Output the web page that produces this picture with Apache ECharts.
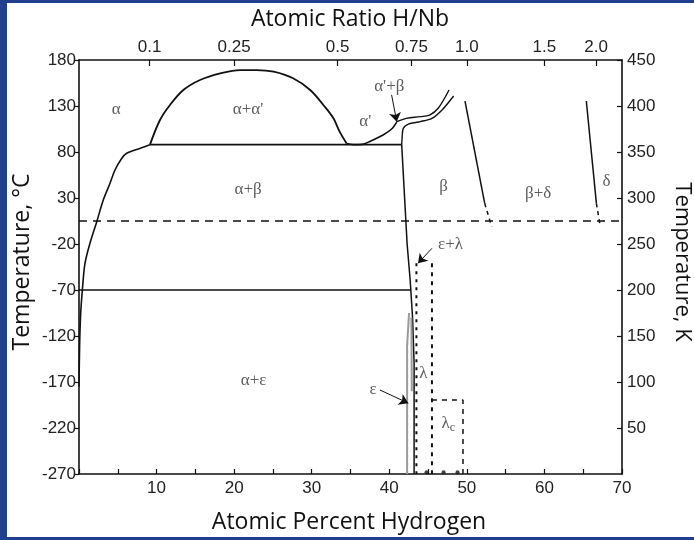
<!DOCTYPE html>
<html>
<head>
<meta charset="utf-8">
<script src="https://cdn.jsdelivr.net/npm/echarts@6/dist/echarts.min.js"></script>
<style>
html,body{margin:0;padding:0;background:#fff;}
#chart{width:694px;height:540px;}
</style>
</head>
<body>
<div id="chart"></div>
<script>
// Nb–H phase diagram: temperature vs. hydrogen content

// Axis tick labels
const ratioLabels = ['0.1', '0.25', '0.5', '0.75', '1.0', '1.5', '2.0'];
const ratioValues = [0.1, 0.25, 0.5, 0.75, 1.0, 1.5, 2.0];

// Phase boundaries: [atomic % H, temperature °C]
const alphaSolvus = [[9.15,88],[7.9,84],[6.15,78.6],[5.5,73],[4.64,60.4],[4.0,46],[3.13,27.8],[2.28,4],[1.42,-19],[0.77,-41],[0.47,-66],[0.22,-95],[0.08,-130],[0.0,-175]];
const miscibilityDome = [[9.15,88],[10.44,114.8],[11.73,131.1],[13.45,147.4],[15.6,158.3],[18.2,165.5],[20.8,169.1],[22.9,169.1],[25.1,167.3],[27.6,160.1],[29.8,147.4],[31.5,131.1],[32.8,116.6],[33.6,102.1],[34.5,89.2]];
const alphaPrimeBoundary = [[34.5,89.2],[35.3,88],[36.5,88.3],[37.5,91.5],[39.2,98.5],[40.3,105],[40.96,112.5]];
const upperTwoPhase = [[40.96,113],[42.2,116.6],[44,118.4],[45.2,120.2],[46.3,127.5],[47.7,147.4]];
const betaTop = [[48.3,140.9],[46.8,125.7],[45.5,116.6],[44,113],[42.45,110.4],[41.8,105.7],[41.65,95],[41.6,88]];
const betaSide = [[41.6,88],[42.3,-20],[42.7,-60],[43.0,-100],[43.2,-150],[43.2,-270]];
const eutectoidLine = [[9.15,88],[41.6,88]];
const lowTempLine = [[0,-70],[42.8,-70]];
const referenceLine = [[0,5],[70,5]];
const betaDeltaSolid = [[49.76,135.4],[52.3,24.2]];
const betaDeltaDashed = [[52.3,24.2],[53.2,-1]];
const deltaSolid = [[65.4,135.4],[66.7,24.2]];
const deltaDashed = [[66.7,24.2],[67.2,-1]];
const epsilonOuter = [[42.55,-95],[42.3,-130],[42.3,-270]];
const epsilonInner = [[42.85,-100],[42.9,-180]];
const lambdaLeft = [[43.5,-41],[43.5,-270]];
const lambdaRight = [[45.5,-41],[45.5,-270]];
const lambdaC = [[45.5,-189.6],[49.5,-189.6],[49.5,-270]];
const bottomDots = [[44.8,-268],[47,-268],[48.8,-268]];

// Pointer arrows: [from, to]
const arrowSegments = [
  [[40.3,142],[40.96,113]],
  [[45.5,-24.7],[43.7,-41]],
  [[38.8,-178.7],[42.45,-193]]
];

// Phase field labels
const regionNames = ['α', 'α+α\'', 'α\'+β', 'α\'', 'α+β', 'β', 'β+δ', 'δ', 'ε+λ', 'α+ε', 'λ', 'λ{sub|c}', 'ε'];
const regionX = [4.8, 21.8, 40.0, 36.9, 21.8, 47.0, 59.2, 68.0, 47.9, 22.5, 44.4, 47.6, 37.9];
const regionT = [126, 126, 151, 112.6, 39, 42, 35, 47.7, -21, -168, -160.5, -215, -178];

const chart = echarts.init(document.getElementById('chart'), null, {renderer: 'canvas'});

const ratioPct = ratioValues.map(r => r / (1 + r) * 100);
const ratioLookup = {};
ratioPct.forEach((p, i) => { ratioLookup[p.toFixed(4)] = ratioLabels[i]; });

const tickFont = {fontFamily: 'Liberation Sans', fontSize: 17, color: '#222'};
const titleFont = '"Open Sans", "Noto Sans", sans-serif';
const black = '#111';

function lineSeries(data, opts) {
  opts = opts || {};
  return {
    type: 'line',
    data: data,
    showSymbol: false,
    symbol: 'none',
    smooth: opts.smooth || false,
    silent: true,
    z: opts.z || 3,
    lineStyle: {
      color: opts.color || black,
      width: opts.width || 1.6,
      type: opts.dash || 'solid'
    }
  };
}

const labelData = regionNames.map((n, i) => ({name: n, value: [regionX[i], regionT[i]]}));

const option = {
  backgroundColor: '#ffffff',
  animation: false,
  grid: {left: 79, right: 72, top: 60, bottom: 66},
  xAxis: [
    {
      type: 'value', position: 'bottom', min: 0, max: 70, interval: 5,
      axisLine: {onZero: false, lineStyle: {color: black, width: 1.6}},
      axisTick: {inside: true, length: 5, lineStyle: {color: black, width: 1.2}},
      axisLabel: Object.assign({}, tickFont, {
        margin: 6,
        formatter: v => (v > 0 && v % 10 === 0) ? String(v) : ''
      }),
      splitLine: {show: false}
    },
    {
      type: 'value', position: 'top', min: 0, max: 70,
      axisLine: {onZero: false, lineStyle: {color: black, width: 1.6}},
      axisTick: {inside: true, length: 6, customValues: ratioPct, lineStyle: {color: black, width: 1.2}},
      axisLabel: Object.assign({}, tickFont, {
        margin: 4,
        customValues: ratioPct,
        formatter: v => ratioLookup[Number(v).toFixed(4)] || ''
      }),
      splitLine: {show: false}
    }
  ],
  yAxis: [
    {
      type: 'value', position: 'left', min: -270, max: 180, interval: 50,
      axisLine: {onZero: false, lineStyle: {color: black, width: 1.6}},
      axisTick: {inside: false, length: 5, lineStyle: {color: black, width: 1.2}},
      axisLabel: Object.assign({}, tickFont, {margin: 3}),
      splitLine: {show: false}
    },
    {
      type: 'value', position: 'right', min: 0, max: 450, interval: 50,
      axisLine: {onZero: false, lineStyle: {color: black, width: 1.6}},
      axisTick: {inside: true, length: 5, lineStyle: {color: black, width: 1.2}},
      axisLabel: Object.assign({}, tickFont, {margin: 5, showMinLabel: false}),
      splitLine: {show: false}
    }
  ],
  series: [
    lineSeries(referenceLine, {dash: [8, 6], width: 1.4}),
    lineSeries(alphaSolvus, {smooth: 0.3}),
    lineSeries(miscibilityDome, {smooth: 0.35, width: 1.8}),
    lineSeries(alphaPrimeBoundary, {smooth: 0.3}),
    lineSeries(upperTwoPhase, {smooth: 0.35, width: 1.4}),
    lineSeries(betaTop, {smooth: 0.3, width: 1.4}),
    lineSeries(betaSide, {width: 1.5}),
    lineSeries(eutectoidLine, {width: 1.6}),
    lineSeries(lowTempLine, {width: 1.4}),
    lineSeries(betaDeltaSolid, {width: 1.5}),
    lineSeries(betaDeltaDashed, {width: 1.5, dash: [4, 4]}),
    lineSeries(deltaSolid, {width: 1.5}),
    lineSeries(deltaDashed, {width: 1.5, dash: [4, 4]}),
    lineSeries(epsilonOuter, {color: '#9a9a9a', width: 2}),
    lineSeries(epsilonInner, {color: '#9a9a9a', width: 2}),
    lineSeries(lambdaLeft, {width: 2, dash: [3, 5]}),
    lineSeries(lambdaRight, {width: 2, dash: [4, 5]}),
    lineSeries(lambdaC, {width: 1.5, dash: [5, 5]}),
    {
      type: 'scatter', data: bottomDots, symbolSize: 4, silent: true,
      itemStyle: {color: black}, z: 4
    },
    {
      type: 'lines', coordinateSystem: 'cartesian2d', polyline: false, silent: true,
      symbol: ['none', 'arrow'], symbolSize: [0, 9],
      lineStyle: {color: black, width: 1, opacity: 1},
      data: arrowSegments.map(s => ({coords: s})),
      z: 5
    },
    {
      type: 'scatter', data: labelData, symbolSize: 0, silent: true, z: 6,
      label: {
        show: true, position: 'inside',
        formatter: p => p.name,
        fontFamily: 'Liberation Serif', fontSize: 17, color: '#333',
        rich: {sub: {fontFamily: 'Liberation Serif', fontSize: 12, color: '#333', verticalAlign: 'bottom', padding: [8, 0, 0, 0]}}
      }
    }
  ],
  graphic: [
    {type: 'rect', shape: {x: 0, y: 0, width: 7, height: 540}, style: {fill: '#203f8e'}, silent: true},
    {type: 'rect', shape: {x: 0, y: 0, width: 694, height: 3}, style: {fill: '#203f8e'}, silent: true},
    {type: 'rect', shape: {x: 0, y: 537, width: 694, height: 3}, style: {fill: '#203f8e'}, silent: true},
    {type: 'text', x: 350, y: 19, style: {text: 'Atomic Ratio H/Nb', font: '23px ' + titleFont, fill: '#111', textAlign: 'center', textVerticalAlign: 'middle'}},
    {type: 'text', x: 349, y: 522, style: {text: 'Atomic Percent Hydrogen', font: '23px ' + titleFont, fill: '#111', textAlign: 'center', textVerticalAlign: 'middle'}},
    {type: 'text', x: 22, y: 262, rotation: Math.PI / 2, style: {text: 'Temperature, °C', font: '23px ' + titleFont, fill: '#111', textAlign: 'center', textVerticalAlign: 'middle'}},
    {type: 'text', x: 682, y: 262, rotation: -Math.PI / 2, style: {text: 'Temperature, K', font: '22px ' + titleFont, fill: '#111', textAlign: 'center', textVerticalAlign: 'middle'}}
  ]
};

chart.setOption(option);
</script>
</body>
</html>
